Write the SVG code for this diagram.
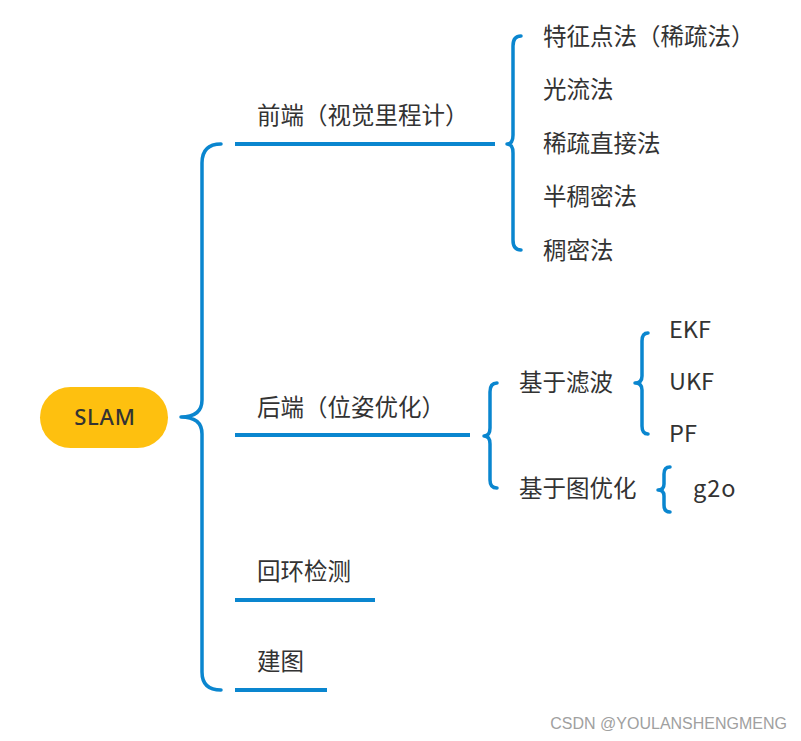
<svg xmlns="http://www.w3.org/2000/svg" width="801" height="741" viewBox="0 0 801 741">
<style>
.t{font-family:"Noto Sans CJK SC","Noto Sans",sans-serif;font-size:23.5px;fill:#333;dominant-baseline:central}
.b{fill:none;stroke:#0A86CF;stroke-width:3.5;stroke-linecap:round;stroke-linejoin:round}
.l{stroke:#0A86CF;stroke-width:4}
</style>
<rect width="801" height="741" fill="#fff"/>
<g id="connectors">
<path class="b" d="M221,144 Q202,144 202,163 L202,400 Q202,417 181,417 Q202,417 202,434 L202,672 Q202,690 221,690"/>
<path class="l" d="M235,144 H495 M235,435 H470 M235,600 H375 M235,690 H327"/>
<path class="b" d="M521,36 Q513,36 513,46 L513,135 Q513,144 507,144 Q513,144 513,153 L513,240 Q513,250 521,250"/>
<path class="b" d="M497,383 Q490,383 490,392 L490,428 Q490,436 484,436 Q490,436 490,444 L490,480 Q490,488 497,488"/>
<path class="b" d="M648,333 Q642,333 642,341 L642,376 Q642,383 635,383 Q642,383 642,390 L642,426 Q642,434 648,434"/>
<path class="b" d="M670,467 Q664,467 664,474 L664,484 Q664,490 658,490 Q664,490 664,496 L664,505 Q664,512 670,512"/>
</g>
<g id="slam">
<rect x="40" y="387" width="128" height="61" rx="30.5" fill="#FEC00F"/>
<text x="105" y="416" text-anchor="middle" class="t" style="font-size:22px;font-weight:500;letter-spacing:0.8px;font-family:'Noto Sans','Noto Sans CJK SC',sans-serif">SLAM</text>
</g>
<g id="frontend"><text class="t" x="257" y="114">前端（视觉里程计）</text></g>
<g id="backend"><text class="t" x="257" y="406">后端（位姿优化）</text></g>
<g id="loop"><text class="t" x="257" y="570">回环检测</text></g>
<g id="mapping"><text class="t" x="257" y="660">建图</text></g>
<g id="f1"><text class="t" x="543" y="35">特征点法（稀疏法）</text></g>
<g id="f2"><text class="t" x="543" y="88">光流法</text></g>
<g id="f3"><text class="t" x="543" y="142">稀疏直接法</text></g>
<g id="f4"><text class="t" x="543" y="195">半稠密法</text></g>
<g id="f5"><text class="t" x="543" y="249">稠密法</text></g>
<g id="filter"><text class="t" x="519" y="381">基于滤波</text></g>
<g id="graph"><text class="t" x="519" y="487">基于图优化</text></g>
<g id="ekf"><text class="t" x="669" y="328">EKF</text></g>
<g id="ukf"><text class="t" x="669" y="380">UKF</text></g>
<g id="pf"><text class="t" x="669" y="432">PF</text></g>
<g id="g2o"><text class="t" x="693" y="487" style="letter-spacing:1px">g2o</text></g>
<text x="787" y="729" text-anchor="end" font-family="'Liberation Sans',Arial,sans-serif" font-size="16" fill="#A0A0A0">CSDN @YOULANSHENGMENG</text>
</svg>
